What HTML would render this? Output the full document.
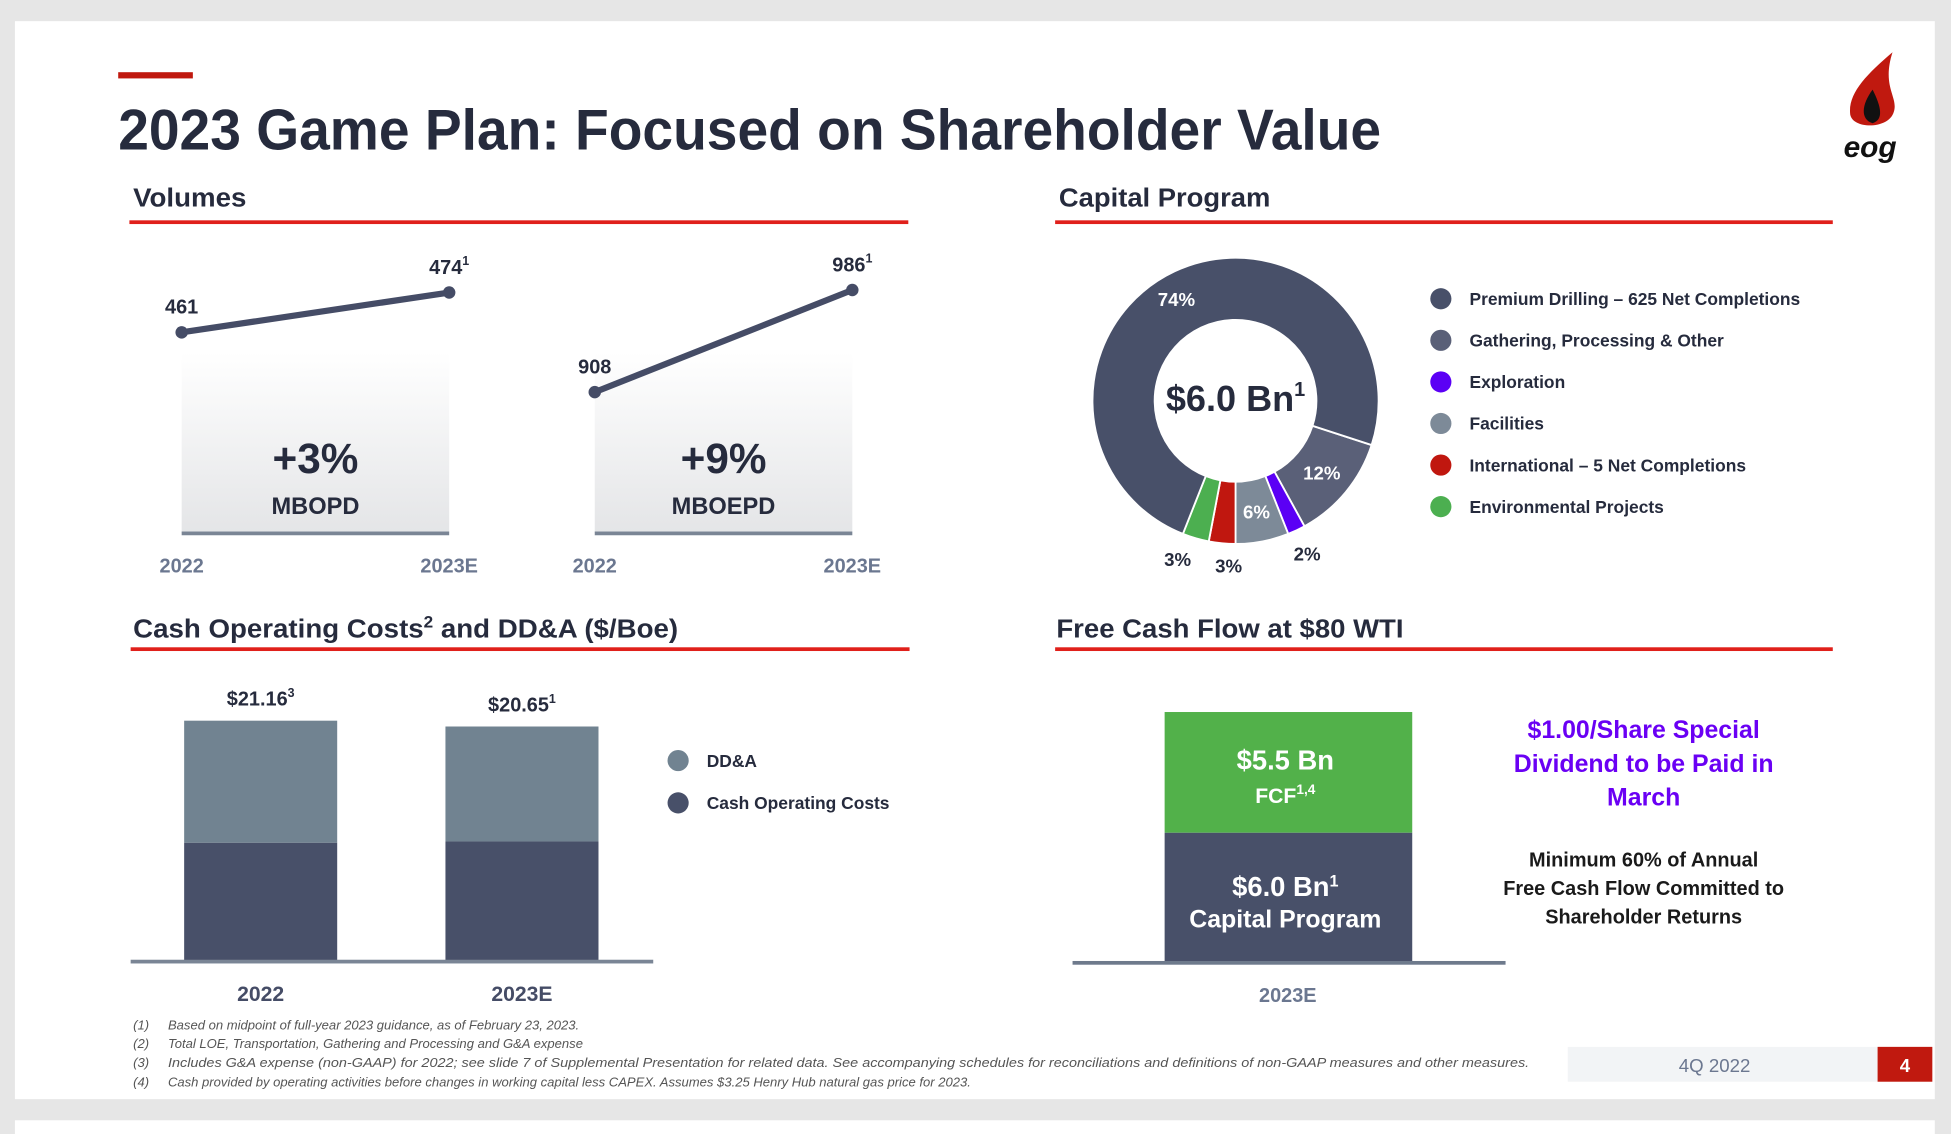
<!DOCTYPE html>
<html><head><meta charset="utf-8"><style>
html,body{margin:0;padding:0;background:#e6e6e6;overflow:hidden}
svg{display:block}
text{font-family:"Liberation Sans",sans-serif;font-weight:bold}
text.n{font-weight:normal}
</style></head><body>
<svg id="s" width="1951" height="1134" viewBox="0 0 1568 911" preserveAspectRatio="none" xmlns="http://www.w3.org/2000/svg">
<rect x="0" y="0" width="1568" height="911" fill="#e6e6e6"/>
<rect x="12" y="17" width="1543" height="866" fill="#fff"/>
<rect x="12" y="900" width="1543" height="11" fill="#fff"/>
<rect x="95" y="58" width="60" height="5" fill="#c0190f"/>
<text x="95" y="120" font-size="46" fill="#262b3d" textLength="1015" lengthAdjust="spacingAndGlyphs">2023 Game Plan: Focused on Shareholder Value</text>
<g>
<path d="M1521,42 C1500,60 1485,75 1487,92 C1489,104 1518,104 1522,90 C1526,78 1512,70 1521,42 Z" fill="#c0190f"/>
<path d="M1505,72 C1496,84 1495,96 1505,99 C1514,96 1512,86 1505,72 Z" fill="#111"/>
<text x="1503" y="126" font-size="24" font-style="italic" text-anchor="middle" fill="#111">eog</text>
</g>
<text x="107" y="166" font-size="21" fill="#262b3d" textLength="91" lengthAdjust="spacingAndGlyphs">Volumes</text>
<rect x="104" y="177" width="626" height="3" fill="#e0201b"/>
<text x="851" y="166" font-size="21" fill="#262b3d" textLength="170" lengthAdjust="spacingAndGlyphs">Capital Program</text>
<rect x="848" y="177" width="625" height="3" fill="#e0201b"/>
<text x="107" y="512" font-size="21" fill="#262b3d" textLength="438" lengthAdjust="spacingAndGlyphs">Cash Operating Costs<tspan font-size="13" dy="-8">2</tspan><tspan dy="8"> and DD&amp;A ($/Boe)</tspan></text>
<rect x="105" y="520" width="626" height="3" fill="#e0201b"/>
<text x="849" y="512" font-size="21" fill="#262b3d" textLength="279" lengthAdjust="spacingAndGlyphs">Free Cash Flow at $80 WTI</text>
<rect x="848" y="520" width="625" height="3" fill="#e0201b"/>
<defs><linearGradient id="g" x1="0" y1="0" x2="0" y2="1"><stop offset="0" stop-color="#fff"/><stop offset="1" stop-color="#e4e5e7"/></linearGradient></defs>
<g id="vol"></g>
<g id="donut"></g>
<g id="legend1"></g>
<g id="bars"></g>
<g id="fcf">
<rect x="936" y="572" width="199" height="97" fill="#52b14a"/>
<rect x="936" y="669" width="199" height="104" fill="#485069"/>
<rect x="862" y="772" width="348" height="3" fill="#6e7a8c"/>
<text x="1033" y="618" font-size="22" fill="#fff" text-anchor="middle">$5.5 Bn</text>
<text x="1033" y="645" font-size="17" fill="#fff" text-anchor="middle">FCF<tspan font-size="11" dy="-7">1,4</tspan></text>
<text x="1033" y="720" font-size="22" fill="#fff" text-anchor="middle">$6.0 Bn<tspan font-size="13" dy="-8">1</tspan></text>
<text x="1033" y="745" font-size="20" fill="#fff" text-anchor="middle">Capital Program</text>
<text x="1035" y="805" font-size="16" fill="#6b7790" text-anchor="middle">2023E</text>
<g fill="#6a00f4" font-size="20" text-anchor="middle">
<text x="1321" y="593">$1.00/Share Special</text><text x="1321" y="620">Dividend to be Paid in</text><text x="1321" y="647">March</text></g>
<g fill="#1a1a1a" font-size="16" text-anchor="middle">
<text x="1321" y="696">Minimum 60% of Annual</text><text x="1321" y="719">Free Cash Flow Committed to</text><text x="1321" y="742">Shareholder Returns</text></g>
</g>
<g font-size="10.5" font-style="italic" fill="#555">
<text class="n" x="107" y="827">(1)</text><text class="n" x="135" y="827">Based on midpoint of full-year 2023 guidance, as of February 23, 2023.</text>
<text class="n" x="107" y="842">(2)</text><text class="n" x="135" y="842">Total LOE, Transportation, Gathering and Processing and G&amp;A expense</text>
<text class="n" x="107" y="857">(3)</text><text class="n" x="135" y="857" textLength="1094" lengthAdjust="spacingAndGlyphs">Includes G&amp;A expense (non-GAAP) for 2022; see slide 7 of Supplemental Presentation for related data. See accompanying schedules for reconciliations and definitions of non-GAAP measures and other measures.</text>
<text class="n" x="107" y="873">(4)</text><text class="n" x="135" y="873">Cash provided by operating activities before changes in working capital less CAPEX. Assumes $3.25 Henry Hub natural gas price for 2023.</text>
</g>
<rect x="1260" y="841" width="249" height="28" fill="#f2f4f6"/>
<text class="n" x="1378" y="861" font-size="15" fill="#6b7790" text-anchor="middle">4Q 2022</text>
<rect x="1509" y="841" width="44" height="28" fill="#c0190f"/>
<text x="1531" y="861" font-size="15" fill="#fff" text-anchor="middle">4</text>
</svg>
<script>
const NS='http://www.w3.org/2000/svg';
const volCats=['2022','2023E'];
const oilValues=[461,474];
const boeValues=[908,986];
const oilLabels=['461','474'];
const boeLabels=['908','986'];
const donutCats=['Gathering, Processing & Other','Exploration','Facilities','International – 5 Net Completions','Environmental Projects','Premium Drilling – 625 Net Completions'];
const donutValues=[12,2,6,3,3,74];
const legendCats=['Premium Drilling – 625 Net Completions','Gathering, Processing & Other','Exploration','Facilities','International – 5 Net Completions','Environmental Projects'];
const barCats=['2022','2023E'];
const cashCosts=[10.47,10.58];
const ddaCosts=[10.69,10.07];
const barTotals=['$21.16','$20.65'];
const barSups=['3','1'];

function mk(tag,attrs,parent,txt){const e=document.createElementNS(NS,tag);for(const k in attrs)e.setAttribute(k,attrs[k]);if(txt!=null)e.textContent=txt;parent.appendChild(e);return e;}

const vol=document.getElementById('vol');
function volChart(x0,x1,vals,labels,vmin,vmax,yTop,yBot,big,unit,name){
  const xs=i=>x0+(x1-x0)*i/(vals.length-1);
  const ys=v=>yBot-(v-vmin)/(vmax-vmin)*(yBot-yTop);
  const r=mk('rect',{x:x0,y:283,width:x1-x0,height:145,fill:'url(#g)'},vol);
  
  
  mk('rect',{x:x0,y:427,width:x1-x0,height:3,fill:'#7a8595'},vol);
  const pts=vals.map((v,i)=>xs(i)+','+ys(v)).join(' ');
  const l=mk('polyline',{points:pts,fill:'none',stroke:'#454c66','stroke-width':5},vol);
  
  
  vals.forEach((v,i)=>{
    const c=mk('circle',{cx:xs(i),cy:ys(v),r:5,fill:'#454c66'},vol);
    
    
    const t=mk('text',{x:xs(i),y:ys(v)-15,'font-size':16,fill:'#262b3d','text-anchor':'middle'},vol,labels[i]);
    if(i===vals.length-1){mk('tspan',{'font-size':10,dy:-7},t,'1');}
    
    
    const xl=mk('text',{x:xs(i),y:460,'font-size':16,fill:'#6b7790','text-anchor':'middle'},vol,volCats[i]);
    
    
  });
  mk('text',{x:(x0+x1)/2,y:380,'font-size':34,fill:'#262b3d','text-anchor':'middle'},vol,big);
  mk('text',{x:(x0+x1)/2,y:413,'font-size':19,fill:'#262b3d','text-anchor':'middle'},vol,unit);
}
volChart(146,361,oilValues,oilLabels,461,474,235,267,'+3%','MBOPD','oil-volume');
volChart(478,685,boeValues,boeLabels,908,986,233,315,'+9%','MBOEPD','boe-volume');

const dn=document.getElementById('donut');
const cx=993,cy=322,R=115,r0=65;
const dColors=['#5a6078','#5b00f5','#7d8a98','#c0170f','#4caf50','#485069'];
const P=(a,rad)=>[cx+rad*Math.sin(a*Math.PI/180),cy-rad*Math.cos(a*Math.PI/180)];
const tot=donutValues.reduce((a,b)=>a+b,0);
let ang=108;
const labelFill=['#fff','#262b3d','#fff','#262b3d','#262b3d','#fff'];
const labelR=[90,135,90,132,135,95];
const labelOff=[0,0,0,-3,4,0];
donutValues.forEach((v,i)=>{
  const sweep=v/tot*360,a2=ang+sweep,lg=sweep>180?1:0;
  const [x1,y1]=P(ang,R),[x2,y2]=P(a2,R),[x3,y3]=P(a2,r0),[x4,y4]=P(ang,r0);
  const p=mk('path',{d:`M${x1},${y1} A${R},${R} 0 ${lg} 1 ${x2},${y2} L${x3},${y3} A${r0},${r0} 0 ${lg} 0 ${x4},${y4} Z`,fill:dColors[i],stroke:'#fff','stroke-width':1.5},dn);
  
  
  let mid=ang+sweep/2+labelOff[i];
  if(i===5) mid=330;
  const [lx,ly]=P(mid,labelR[i]);
  const t=mk('text',{x:lx,y:ly+6,'font-size':15,fill:labelFill[i],'text-anchor':'middle'},dn,v+'%');
  
  
  ang=a2;
});
const ct=mk('text',{x:cx,y:330,'font-size':29,fill:'#262b3d','text-anchor':'middle'},dn,'$6.0 Bn');
mk('tspan',{'font-size':16,dy:-12},ct,'1');



const lg1=document.getElementById('legend1');
const lColors=['#485069','#5a6078','#5b00f5','#7d8a98','#c0170f','#4caf50'];
legendCats.forEach((c,i)=>{
  const y=240+i*33.4;
  const g=mk('g',{},lg1);
  
  
  mk('circle',{cx:1158,cy:y,r:8.5,fill:lColors[i]},g);
  mk('text',{x:1181,y:y+5,'font-size':14,fill:'#262b3d'},g,c);
});

const bg=document.getElementById('bars');
const base=773,k=9.17;
const bx=[148,358],bw=123;
barCats.forEach((c,i)=>{
  const hc=cashCosts[i]*k,hd=ddaCosts[i]*k;
  const r1=mk('rect',{x:bx[i],y:base-hc,width:bw,height:hc,fill:'#485069'},bg);
  
  
  const r2=mk('rect',{x:bx[i],y:base-hc-hd,width:bw,height:hd,fill:'#718391'},bg);
  
  
  const t=mk('text',{x:bx[i]+bw/2,y:base-hc-hd-12,'font-size':16,fill:'#262b3d','text-anchor':'middle'},bg,barTotals[i]);
  mk('tspan',{'font-size':10,dy:-7},t,barSups[i]);
  
  
  const xl=mk('text',{x:bx[i]+bw/2,y:804,'font-size':17,fill:'#454c66','text-anchor':'middle'},bg,c);
  
  
});
mk('rect',{x:105,y:771,width:420,height:3,fill:'#7a8595'},bg);
[['DD&A','#718391',611],['Cash Operating Costs','#485069',645]].forEach(d=>{
  const g=mk('g',{},bg);
  
  
  mk('circle',{cx:545,cy:d[2],r:8.5,fill:d[1]},g);
  mk('text',{x:568,y:d[2]+5,'font-size':14,fill:'#262b3d'},g,d[0]);
});
</script>
</body></html>
